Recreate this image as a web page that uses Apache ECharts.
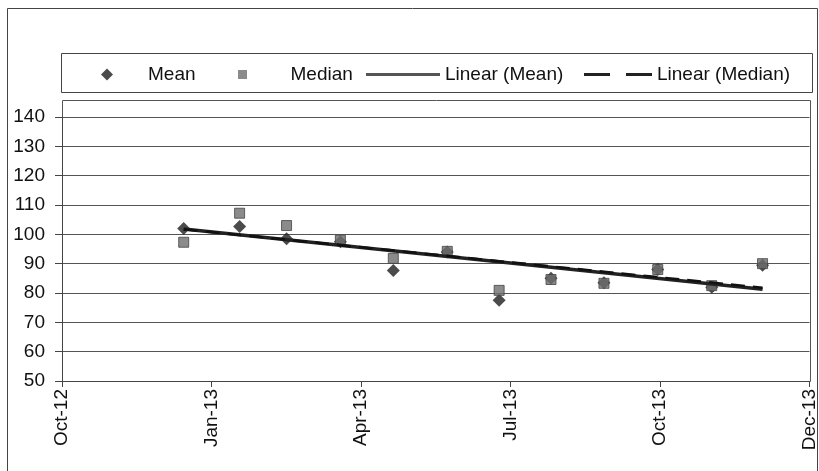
<!DOCTYPE html>
<html>
<head>
<meta charset="utf-8">
<script src="https://cdn.jsdelivr.net/npm/echarts@6/dist/echarts.min.js"></script>
<style>
html,body{margin:0;padding:0;background:#fff;}
#chart{width:819px;height:471px;}
</style>
</head>
<body>
<div id="chart"></div>
<script>
// X tick labels (one per major tick, axis units = tick index)
const xTickLabels = ['Oct-12', 'Jan-13', 'Apr-13', 'Jul-13', 'Oct-13', 'Dec-13'];
const obsX = [0.814, 1.188, 1.502, 1.862, 2.216, 2.577, 2.924, 3.271, 3.625, 3.985, 4.346, 4.686];
const meanValues   = [102, 102.7, 98.5, 97.5, 87.7, 94, 77.5, 85, 83.5, 88, 82, 89.5];
const medianValues = [97.3, 107.2, 103, 98, 91.8, 94.2, 80.9, 84.6, 83.3, 88, 82.5, 90];
// Trend line end points
const trendMeanX = [0.814, 4.686];
const trendMeanY = [101.8, 81.3];
const trendMedianX = [0.814, 4.686];
const trendMedianY = [101.7, 81.8];
const yTicks = { min: 50, max: 140, step: 10 };

const pair = (xs, ys) => xs.map((x, i) => [x, ys[i]]);

const FONT = 'Liberation Sans';
const chart = echarts.init(document.getElementById('chart'), null, { renderer: 'canvas' });

const legendText = { color: '#111', fontSize: 19, fontFamily: FONT };
function legendOf(name, icon, left, w, h, color) {
  return {
    data: [{ name: name, icon: icon, itemStyle: { color: color, borderWidth: 0 } }],
    left: left, top: 65, padding: 0,
    itemWidth: w, itemHeight: h,
    selectedMode: false,
    textStyle: legendText
  };
}

chart.setOption({
  backgroundColor: '#fff',
  animation: false,
  grid: { left: 62, right: 8, top: 117, bottom: 90, containLabel: false },
  legend: [
    legendOf('Mean', 'path://M5,0L10,5L5,10L0,5Z', 101, 72, 12, '#1e1e1e'),
    legendOf('Median', 'path://M0,0H10V10H0Z', 238, 86, 9, '#6e6e6e'),
    legendOf('Linear (Mean)', 'path://M0,0H74V3H0Z', 366, 74, 12, '#555'),
    legendOf('Linear (Median)', 'path://M0,0H26V3H0Z M42,0H68V3H42Z', 584, 68, 12, '#222')
  ],
  xAxis: {
    type: 'value', min: 0, max: xTickLabels.length - 1, interval: 1,
    axisLine: { show: true, onZero: false, lineStyle: { color: '#444', width: 1 } },
    axisTick: { show: true, length: 6, lineStyle: { color: '#444' } },
    splitLine: { show: false },
    axisLabel: {
      rotate: 90, margin: 8, fontSize: 19, fontFamily: FONT, color: '#111',
      formatter: v => xTickLabels[Math.round(v)] || ''
    }
  },
  yAxis: {
    type: 'value', min: yTicks.min, max: yTicks.max, interval: yTicks.step,
    axisLine: { show: true, lineStyle: { color: '#444', width: 1 } },
    axisTick: { show: true, length: 7, lineStyle: { color: '#444' } },
    splitLine: { show: true, lineStyle: { color: '#555', width: 1.2 } },
    axisLabel: { margin: 17, fontSize: 19, fontFamily: FONT, color: '#111' }
  },
  graphic: [
    { type: 'rect', shape: { x: 7.5, y: 8.5, width: 810, height: 470 },
      style: { fill: 'none', stroke: '#444', lineWidth: 1 }, silent: true, z: -1 },
    { type: 'rect', shape: { x: 61.5, y: 53.5, width: 751, height: 39 },
      style: { fill: 'none', stroke: '#444', lineWidth: 1 }, silent: true },
    { type: 'rect', shape: { x: 62.5, y: 100.5, width: 748, height: 281 },
      style: { fill: 'none', stroke: '#555', lineWidth: 1 }, silent: true }
  ],
  series: [
    {
      name: 'Mean', type: 'scatter', symbol: 'diamond', symbolSize: 13,
      itemStyle: { color: '#1e1e1e' }, z: 3,
      data: pair(obsX, meanValues)
    },
    {
      name: 'Median', type: 'scatter', symbol: 'rect', symbolSize: 10,
      itemStyle: { color: '#6e6e6e', borderColor: '#444', borderWidth: 1 }, z: 4,
      data: pair(obsX, medianValues)
    },
    {
      name: 'Linear (Mean)', type: 'line', showSymbol: false, symbol: 'none', z: 5,
      lineStyle: { color: '#222', width: 3.5 },
      data: pair(trendMeanX, trendMeanY)
    },
    {
      name: 'Linear (Median)', type: 'line', showSymbol: false, symbol: 'none', z: 6,
      lineStyle: { color: '#111', width: 2.5, type: [14, 8] },
      data: pair(trendMedianX, trendMedianY)
    }
  ]
});
</script>
</body>
</html>
